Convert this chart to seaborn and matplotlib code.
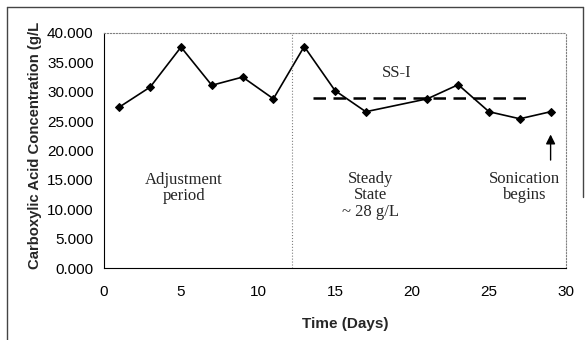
import matplotlib
matplotlib.use("Agg")
import matplotlib.pyplot as plt
import seaborn as sns
import pandas as pd
from matplotlib.lines import Line2D

days = [1, 3, 5, 7, 9, 11, 13, 15, 17, 21, 23, 25, 27, 29]
conc = [27.4, 30.8, 37.6, 31.1, 32.5, 28.8, 37.7, 30.2, 26.6, 28.8, 31.2, 26.6, 25.4, 26.6]
ss_level = 28.9
ss_range = [13.6, 27.8]
split_day = 12.2
xticks = [0, 5, 10, 15, 20, 25, 30]
yticks = [0, 5, 10, 15, 20, 25, 30, 35, 40]

sns.set_style("white")
plt.rcParams['font.family'] = ['Liberation Sans', 'DejaVu Sans']

df = pd.DataFrame({"day": days, "conc": conc})
fig = plt.figure(figsize=(5.86, 3.40), dpi=100)
ax = fig.add_axes([104 / 586, 72 / 340, 462 / 586, 235 / 340])

sns.lineplot(data=df, x="day", y="conc", ax=ax, color="black", lw=1.2,
             marker="D", markersize=4.5, markeredgecolor="black", markerfacecolor="black")
sns.lineplot(x=ss_range, y=[ss_level, ss_level], ax=ax, color="black", lw=1.8,
             linestyle=(0, (5, 3)))
ax.axvline(split_day, color="gray", lw=0.8, linestyle=":")

ax.set_xlim(0, 30)
ax.set_ylim(0, 40)
ax.set_xticks(xticks)
ax.set_yticks(yticks)
ax.set_yticklabels([f"{v:.3f}" for v in yticks])
ax.tick_params(axis="both", direction="out", length=4, width=0.8, labelsize=11, colors="black")
ax.tick_params(axis="x", pad=8)
for s in ["left", "bottom"]:
    ax.spines[s].set_color("black")
    ax.spines[s].set_linewidth(0.8)
for s in ["top", "right"]:
    ax.spines[s].set_color("gray")
    ax.spines[s].set_linewidth(0.8)
    ax.spines[s].set_linestyle(":")

ax.set_xlabel("Time (Days)", fontsize=11, fontweight="bold")
ax.xaxis.set_label_coords(0.522, -0.21)
ax.set_ylabel("Carboxylic Acid Concentration (g/L", fontsize=10.7, fontweight="bold")
ax.yaxis.set_label_coords(-0.135, 0.52)

serif = ['Liberation Serif', 'DejaVu Serif']
fs = 12
ax.text(5.2, 13.6, "Adjustment\nperiod", ha="center", va="center", fontsize=fs, family=serif, linespacing=1.05)
ax.text(17.3, 12.4, "Steady\nState\n~ 28 g/L", ha="center", va="center", fontsize=fs, family=serif, linespacing=1.05)
ax.text(27.3, 13.8, "Sonication\nbegins", ha="center", va="center", fontsize=fs, family=serif, linespacing=1.05)
ax.text(19.0, 33.2, "SS-I", ha="center", va="center", fontsize=fs, family=serif)
ax.annotate("", xy=(29, 23.2), xytext=(29, 17.9),
            arrowprops=dict(arrowstyle="-|>", color="black", lw=1.0, mutation_scale=14))

# outer frame (left, top, partial right)
W, H = 586, 340
fig.add_artist(Line2D([7 / W, 7 / W], [0, 1 - 7 / H], transform=fig.transFigure, color="#444444", lw=1.0))
fig.add_artist(Line2D([7 / W, 583 / W], [1 - 7 / H, 1 - 7 / H], transform=fig.transFigure, color="#444444", lw=1.0))
fig.add_artist(Line2D([583 / W, 583 / W], [1 - 7 / H, 1 - 197 / H], transform=fig.transFigure, color="#444444", lw=1.0))

fig.savefig("out.png", dpi=100)
